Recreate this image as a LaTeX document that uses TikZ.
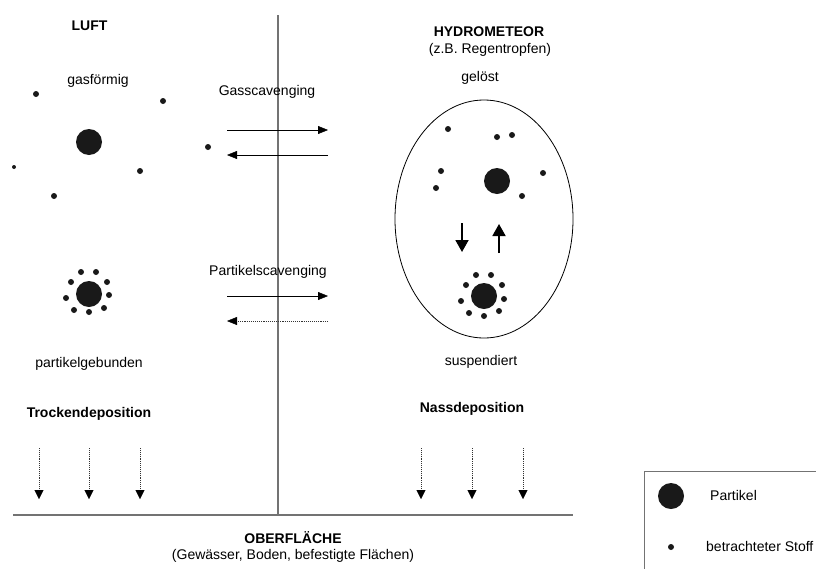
\documentclass[tikz,border=0pt]{standalone}
\usepackage{fontspec}
\setmainfont{Liberation Sans}
\usetikzlibrary{arrows.meta,calc,shapes.geometric}
\begin{document}
\begin{tikzpicture}[x=1pt,y=-1pt,
  txt/.style={inner sep=0pt,anchor=base,font=\fontsize{14}{16}\selectfont},
  btxt/.style={txt,font=\fontsize{14}{16}\selectfont\bfseries},
  ltxt/.style={txt,anchor=base west},
  particle/.style={circle,fill=black!90,draw=none,minimum size=26pt,inner sep=0pt},
  substance/.style={circle,fill=black!90,draw=none,minimum size=6pt,inner sep=0pt},
  tiny/.style={substance,minimum size=4pt},
  flow/.style={draw=black,line width=0.9pt,-{Triangle[length=10pt,width=8pt,fill=black,color=black,line width=0.4pt]}},
  dflow/.style={flow,densely dotted,draw=black!80},
  exch/.style={draw=black,line width=1.8pt,-{Triangle[length=12pt,width=13pt]}},
  divider/.style={draw=black!55,line width=1.3pt},
  every node/.append style={text=black}]
\useasboundingbox (0,0) rectangle (816,568);

% dividing lines
\coordinate (vtop) at (278,15);
\coordinate (vbot) at (278,515);
\coordinate (gl) at (13,515);
\coordinate (gr) at (573,515);
\draw[divider] (vtop) -- (vbot);
\draw[divider] (gl) -- (gr);

% headings
\node[btxt] (luft) at (89.5,30) {LUFT};
\node[btxt] (hydro) at (489,36) {HYDROMETEOR};
\node[txt] (hydrosub) at (490,53) {(z.B. Regentropfen)};
\node[btxt] (ober) at (293,543) {OBERFLÄCHE};
\node[txt] (obersub) at (293,559) {(Gewässer, Boden, befestigte Flächen)};

% gaseous phase in air
\node[txt] (gasf) at (98,84) {gasförmig};
\node[particle] (pg) at (89,142) {};
\node[substance] (g1) at (36,94) {};
\node[substance] (g2) at (163,101) {};
\node[substance] (g3) at (208,147) {};
\node[substance] (g4) at (140,171) {};
\node[substance] (g5) at (54,196) {};
\node[tiny] (g6) at (14,167) {};

% particle-bound phase in air
\node[particle] (pb) at (89,294) {};
\foreach \dx/\dy [count=\i] in {-8/-22,7/-22,-18/-12,18/-12,-23/4,20/1,-15/16,0/18,15/14}
  \node[substance] (pb\i) at ($(89,294)+(\dx,\dy)$) {};
\node[txt] (pgeb) at (89,367) {partikelgebunden};

% scavenging
\node[txt] (gassc) at (267,95) {Gasscavenging};
\coordinate (ga1) at (227,130);
\coordinate (ga2) at (328,130);
\coordinate (gb1) at (328,155);
\coordinate (gb2) at (227,155);
\draw[flow] (ga1) -- (ga2);
\draw[flow] (gb1) -- (gb2);

\node[txt] (partsc) at (268,275) {Partikelscavenging};
\coordinate (pa1) at (227,296);
\coordinate (pa2) at (328,296);
\coordinate (pb1x) at (328,321);
\coordinate (pb2x) at (227,321);
\draw[flow] (pa1) -- (pa2);
\draw[dflow] (pb1x) -- (pb2x);

% raindrop
\node[txt] (geloest) at (480,81) {gelöst};
\node[draw=black,line width=0.8pt,ellipse,minimum width=178pt,minimum height=238pt,inner sep=0pt] (drop) at (484,219) {};
\node[particle] (dp) at (497,181) {};
\node[substance] (d1) at (448,129) {};
\node[substance] (d2) at (497,137) {};
\node[substance] (d3) at (512,135) {};
\node[substance] (d4) at (441,171) {};
\node[substance] (d5) at (436,188) {};
\node[substance] (d6) at (543,173) {};
\node[substance] (d7) at (522,196) {};
\coordinate (dn1) at (462,223);
\coordinate (dn2) at (462,252);
\coordinate (up1) at (499,253);
\coordinate (up2) at (499,224);
\draw[exch] (dn1) -- (dn2);
\draw[exch] (up1) -- (up2);
\node[particle] (ds) at (484,296) {};
\foreach \dx/\dy [count=\i] in {-8/-21,7/-21,-18/-11,18/-11,-23/5,20/3,-15/17,0/20,15/15}
  \node[substance] (ds\i) at ($(484,296)+(\dx,\dy)$) {};
\node[txt] (susp) at (481,365) {suspendiert};

% deposition
\node[btxt] (trock) at (89,417) {Trockendeposition};
\node[btxt] (nass) at (472,412) {Nassdeposition};
\foreach \x [count=\i] in {39,89,140,421,472,523}{
  \coordinate (dep\i a) at (\x,448);
  \coordinate (dep\i b) at (\x,499);
  \draw[dflow,line width=0.8pt,-{Triangle[length=9pt,width=9pt,fill=black,color=black,line width=0.4pt]}] (dep\i a) -- (dep\i b);
}

% legend
\begin{scope}
\clip (0,0) rectangle (816,568);
\draw[draw=black!55,line width=1pt] (644,471) rectangle (840,590);
\end{scope}
\node[particle] (lp) at (671,496) {};
\node[ltxt] (lpt) at (710,500) {Partikel};
\node[substance] (ls) at (671,547) {};
\node[ltxt] (lst) at (706,551) {betrachteter Stoff};
\end{tikzpicture}
\end{document}
